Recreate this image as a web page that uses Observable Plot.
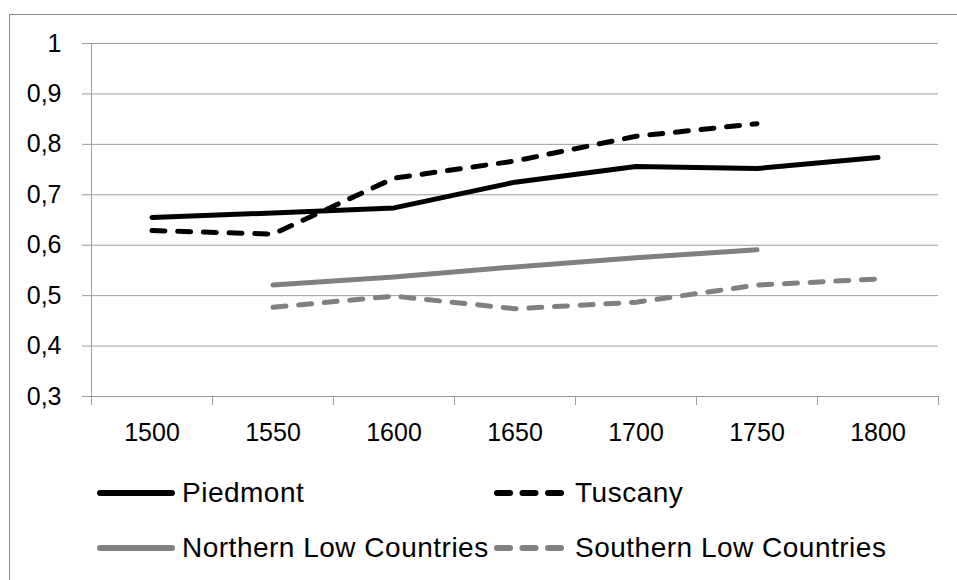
<!DOCTYPE html>
<html>
<head>
<meta charset="utf-8">
<script src="https://cdn.jsdelivr.net/npm/d3@7"></script>
<script src="https://cdn.jsdelivr.net/npm/@observablehq/plot@0.6"></script>
<style>
  html, body { margin: 0; padding: 0; background: #fff; overflow: hidden; width: 957px; height: 580px; }
  #frame { position: absolute; left: 9px; top: 14px; width: 1000px; height: 700px; border: 1px solid #8c8c8c; box-sizing: border-box; pointer-events: none; }
  #chart { position: absolute; left: 0; top: 0; }
  .leg { position: absolute; display: flex; align-items: center; font-family: "Liberation Sans", Arial, sans-serif; font-size: 28px; letter-spacing: 0.5px; color: #000; white-space: nowrap; }
  .leg svg { display: block; margin-right: 5px; }
</style>
</head>
<body>
<div id="frame"></div>
<div id="chart"></div>
<div id="legend"></div>
<script>
const years = [1500, 1550, 1600, 1650, 1700, 1750, 1800];
const piedmont   = [0.655, 0.664, 0.674, 0.725, 0.756, 0.752, 0.774];
const tuscany    = [0.629, 0.622, 0.733, 0.767, 0.816, 0.841, null];
const northernLC = [null, 0.521, 0.537, 0.557, 0.575, 0.591, null];
const southernLC = [null, 0.477, 0.499, 0.474, 0.487, 0.521, 0.533];
const yTicks = [0.3, 0.4, 0.5, 0.6, 0.7, 0.8, 0.9, 1];

const seriesNames = ["Piedmont", "Tuscany", "Northern Low Countries", "Southern Low Countries"];
const seriesValues = [piedmont, tuscany, northernLC, southernLC];
const seriesColor = ["#000000", "#000000", "#808080", "#808080"];
const seriesDash = [null, "13,12.7", null, "13,12.7"];

const rows = [];
seriesNames.forEach((name, i) => {
  seriesValues[i].forEach((v, j) => { if (v != null) rows.push({series: name, year: years[j], value: v}); });
});

const half = (years[1] - years[0]) / 2;
const bounds = [...years.map(y => y - half), years[years.length - 1] + half];
const gridColor = "#9c9c9c";

const lineMarks = seriesNames.map((name, i) =>
  Plot.line(rows.filter(r => r.series === name), {
    x: "year", y: "value", stroke: seriesColor[i], strokeWidth: 5,
    strokeDasharray: seriesDash[i], strokeLinecap: "round", strokeLinejoin: "round"
  })
);

const chart = Plot.plot({
  width: 957,
  height: 460,
  marginLeft: 91,
  marginRight: 19,
  marginTop: 43,
  marginBottom: 64,
  style: { fontFamily: "'Liberation Sans', Arial, sans-serif", fontSize: "25px", color: "#000", background: "transparent", overflow: "visible" },
  x: { domain: [bounds[0], bounds[bounds.length - 1]] },
  y: { domain: [yTicks[0], yTicks[yTicks.length - 1]] },
  marks: [
    Plot.gridY(yTicks, { stroke: gridColor, strokeOpacity: 1, strokeWidth: 1 }),
    Plot.axisY(yTicks, { label: null, tickSize: 9, tickPadding: 21, stroke: gridColor, strokeOpacity: 1, fill: "#000",
      tickFormat: d => String(+d.toFixed(1)).replace(".", ",") }),
    Plot.ruleX([bounds[0]], { stroke: gridColor }),
    Plot.ruleY([yTicks[0]], { stroke: gridColor }),
    Plot.axisX(bounds, { label: null, tickSize: 9, stroke: gridColor, strokeOpacity: 1, tickFormat: () => "" }),
    Plot.axisX(years, { label: null, tickSize: 0, tickPadding: 27, fill: "#000", tickFormat: d => String(d) }),
    ...lineMarks
  ]
});
document.getElementById("chart").appendChild(chart);

// Legend (HTML, below the SVG)
const legendPos = [
  { left: 100, top: 493 },
  { left: 497, top: 493 },
  { left: 100, top: 548 },
  { left: 497, top: 548 }
];
const legend = document.getElementById("legend");
seriesNames.forEach((name, i) => {
  const item = document.createElement("div");
  item.className = "leg";
  item.style.left = (legendPos[i].left - 4) + "px";
  item.style.top = (legendPos[i].top - 18) + "px";
  item.style.height = "36px";
  const w = i % 2 === 0 ? 81 : 77;
  const dash = seriesDash[i] ? `stroke-dasharray="13,12.5"` : "";
  item.innerHTML = `<svg width="${w}" height="12"><line x1="4" y1="6" x2="${w - 5}" y2="6" stroke="${seriesColor[i]}" stroke-width="6" stroke-linecap="round" ${dash}/></svg><span>${name}</span>`;
  legend.appendChild(item);
});
</script>
</body>
</html>
